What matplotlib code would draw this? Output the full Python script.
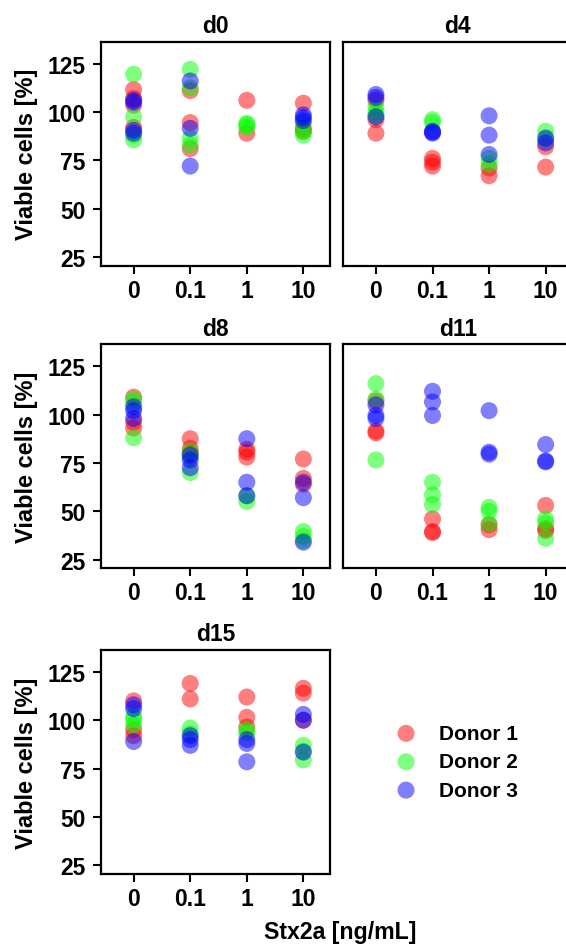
"""Viable cells after Stx2a exposure, per day and donor."""

import numpy
import matplotlib
matplotlib.use('Agg')
from matplotlib import pyplot

doses = ['0', '0.1', '1', '10']
days = ['d0', 'd4', 'd8', 'd11', 'd15']
donors = ['Donor 1', 'Donor 2', 'Donor 3']
colors = ['#ff0000', '#00ff00', '#0000ff']

# Viable cells [%], one inner list per dose (0, 0.1, 1, 10 ng/mL).
d0_donor1 = [[111.5, 107, 103.5, 92], [111, 94.5, 81], [106, 89], [104.5, 91.5, 90]]
d0_donor2 = [[119.5, 97.5, 88, 85.5], [122, 112.5, 86.5, 83], [94, 93.5, 92], [94, 90, 88]]
d0_donor3 = [[106, 105, 90.5, 89], [116, 91.5, 72], [], [98.5, 97, 95.5]]

d4_donor1 = [[106, 96, 89], [76, 72, 74], [71, 67], [82, 71.5]]
d4_donor2 = [[102.5, 100, 98], [96, 94.5], [76, 73], [90, 86]]
d4_donor3 = [[109, 107.5, 97.5], [90, 89, 89.5], [98, 88, 78], [86.5, 84]]

d8_donor1 = [[109, 96, 93], [87.5, 82.5, 80], [82, 80.5, 78], [77, 67, 64]]
d8_donor2 = [[108, 106, 88], [81, 78, 70], [58, 55], [39.5, 37, 35]]
d8_donor3 = [[104, 102, 98], [79, 76.5, 72.5], [87.5, 65, 58], [65, 57, 34]]

d11_donor1 = [[107, 91.5, 90.5], [46, 39, 39.5], [43, 40.5], [53, 41, 40]]
d11_donor2 = [[116, 108, 76.5], [65, 58.5, 53.5], [52, 50, 43.5], [46, 44, 36]]
d11_donor3 = [[105, 99.5, 98], [112, 106.5, 99.5], [102, 80.5, 79.5], [84.5, 76, 75.5]]

d15_donor1 = [[110, 95, 92], [119, 111], [112, 101.5, 96.5], [116.5, 114, 100]]
d15_donor2 = [[102, 100.5, 97.5], [96, 93], [95, 93.5], [87, 84, 79.5]]
d15_donor3 = [[108, 106, 89], [92, 90, 87], [90, 88, 78.5], [103, 100, 83.5]]

data = {
    'd0': [d0_donor1, d0_donor2, d0_donor3],
    'd4': [d4_donor1, d4_donor2, d4_donor3],
    'd8': [d8_donor1, d8_donor2, d8_donor3],
    'd11': [d11_donor1, d11_donor2, d11_donor3],
    'd15': [d15_donor1, d15_donor2, d15_donor3],
}

pyplot.rc('font', family='Liberation Sans', weight='bold', size=16.5)

W, H = 566, 945
fig = pyplot.figure(figsize=(W / 100, H / 100), dpi=100)

# Panel boxes in pixels: (left, top) with a common size.
col_left = [101, 343.3]
row_top = [42.7, 345.3, 651]
pw, ph = 229, 224
positions = {
    'd0': (0, 0), 'd4': (1, 0),
    'd8': (0, 1), 'd11': (1, 1),
    'd15': (0, 2),
}

handles = []
for day in days:
    col, row = positions[day]
    left, top = col_left[col], row_top[row]
    ax = fig.add_axes([left / W, 1 - (top + ph) / H, pw / W, ph / H])
    for k, series in enumerate(data[day]):
        for i, vals in enumerate(series):
            x = numpy.full(len(vals), i + 1)
            sc = ax.scatter(x, vals, s=150, color=colors[k], alpha=0.5,
                            edgecolors='none', label=donors[k])
            if day == 'd15' and i == 0:
                handles.append(sc)
    ax.set_xlim(0.423, 4.471)
    ax.set_ylim(20.5, 136.3)
    ax.set_xticks(range(1, 5))
    ax.set_xticklabels(doses)
    ax.set_yticks([25, 50, 75, 100, 125])
    ax.set_title(day, fontweight='bold', fontsize=16.5, pad=7)
    for spine in ax.spines.values():
        spine.set_linewidth(1.6)
    ax.tick_params(direction='out', length=6, width=1.5)
    ax.tick_params(axis='x', pad=3.5)
    ax.tick_params(axis='y', pad=5)
    if col == 0:
        ax.set_ylabel('Viable cells [%]', fontweight='bold', fontsize=17)
        ax.yaxis.set_label_coords(-0.277, 0.5)
    else:
        ax.tick_params(left=False, labelleft=False)

fig.text(340 / W, 1 - 939 / H, 'Stx2a [ng/mL]', ha='center', va='baseline',
         fontweight='bold', fontsize=16.7)

fig.legend(handles=handles, labels=donors, loc='center left',
           bbox_to_anchor=(0.699, 1 - 762.7 / H), frameon=False,
           fontsize=15, borderpad=0, handlelength=1.0, handletextpad=1.1,
           labelspacing=0.45, borderaxespad=0)

fig.savefig('out.png', dpi=100)
